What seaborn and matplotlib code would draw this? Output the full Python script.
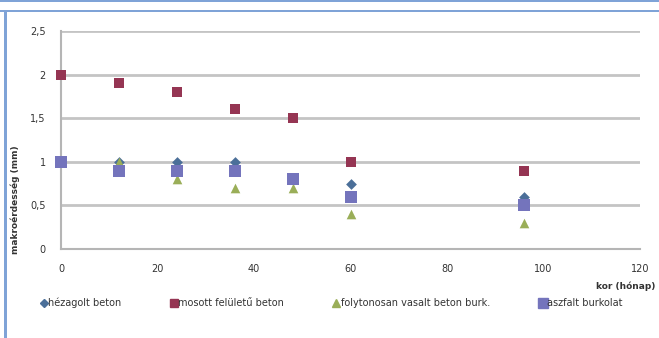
import matplotlib
matplotlib.use("Agg")
import matplotlib.pyplot as plt
from matplotlib.lines import Line2D
from matplotlib.patches import Rectangle
import seaborn as sns
import pandas as pd

# Surface macrotexture (mm) versus pavement age (months)
age_hezagolt = [0, 12, 24, 36, 48, 60, 96]
hezagolt = [1.0, 1.0, 1.0, 1.0, 0.8, 0.75, 0.6]

age_mosott = [0, 12, 24, 36, 48, 60, 96]
mosott = [2.0, 1.9, 1.8, 1.6, 1.5, 1.0, 0.9]

age_folyt = [0, 12, 24, 36, 48, 60, 96]
folytonosan = [1.0, 1.0, 0.8, 0.7, 0.7, 0.4, 0.3]

age_aszfalt = [0, 12, 24, 36, 48, 60, 96]
aszfalt = [1.0, 0.9, 0.9, 0.9, 0.8, 0.6, 0.5]

series_names = ["hézagolt beton", "mosott felületű beton",
                "folytonosan vasalt beton burk.", "aszfalt burkolat"]
y_ticks = [0, 0.5, 1, 1.5, 2, 2.5]
y_tick_labels = ["0", "0,5", "1", "1,5", "2", "2,5"]
x_ticks = [0, 20, 40, 60, 80, 100, 120]

frames = []
for name, xs, ys in zip(series_names,
                        [age_hezagolt, age_mosott, age_folyt, age_aszfalt],
                        [hezagolt, mosott, folytonosan, aszfalt]):
    frames.append(pd.DataFrame({"kor": xs, "ertek": ys, "sorozat": name}))
df = pd.concat(frames, ignore_index=True)

styles = {
    "hézagolt beton": dict(marker="D", color="#4B6F99", s=30, legend_ms=4),
    "mosott felületű beton": dict(marker="s", color="#953553", s=48, legend_ms=5.5),
    "folytonosan vasalt beton burk.": dict(marker="^", color="#9AAE58", s=48, legend_ms=5.5),
    "aszfalt burkolat": dict(marker="s", color="#7474BC", s=80, legend_ms=6.5),
}

sns.set_style("white")
plt.rcParams["font.family"] = ["DejaVu Sans"]

W, H = 659, 338
fig = plt.figure(figsize=(W / 100, H / 100), dpi=100)
ax = fig.add_axes([61 / W, 1 - 249 / H, (640 - 61) / W, (249 - 31) / H])

for name in series_names:
    st = styles[name]
    sub = df[df["sorozat"] == name]
    sns.scatterplot(data=sub, x="kor", y="ertek", ax=ax, marker=st["marker"],
                    color=st["color"], s=st["s"], linewidth=0, zorder=3,
                    legend=False, clip_on=False)

ax.set_xlim(0, 120)
ax.set_ylim(0, 2.5)
ax.set_xticks(x_ticks)
ax.set_yticks(y_ticks)
ax.set_yticklabels(y_tick_labels)
ax.tick_params(axis="both", labelsize=7, colors="#333333", length=3,
               color="#BBBBBB", pad=8)
ax.yaxis.grid(True, color="#C4C4C4", linewidth=2)
ax.set_axisbelow(True)
for side in ["top", "right"]:
    ax.spines[side].set_visible(False)
for side in ["left", "bottom"]:
    ax.spines[side].set_color("#B5B5B5")
    ax.spines[side].set_linewidth(1.5)
ax.set_xlabel("")
ax.set_ylabel("")

fig.text(655 / W, 1 - 286 / H, "kor (hónap)", ha="right", va="center",
         fontsize=6.5, fontweight="bold", color="#333333")
fig.text(15 / W, 1 - 200 / H, "makroérdesség (mm)", rotation=90,
         ha="center", va="center", fontsize=6.5, fontweight="bold",
         color="#333333")

handles = [Line2D([], [], linestyle="none", marker=styles[n]["marker"],
                  color=styles[n]["color"], markersize=styles[n]["legend_ms"])
           for n in series_names]
fig.legend(handles, series_names, loc="center", ncol=4,
           bbox_to_anchor=(331 / W, 1 - 303 / H), frameon=False,
           fontsize=7, handletextpad=0.05, columnspacing=5.0,
           handlelength=0.8, labelcolor="#333333")

# blue page frame lines
frame_color = "#7FA3D7"
fig.add_artist(Rectangle((0, 1 - 2 / H), 1, 2 / H, transform=fig.transFigure,
                         color=frame_color, lw=0))
fig.add_artist(Rectangle((0, 1 - 12 / H), 1, 2.5 / H, transform=fig.transFigure,
                         color=frame_color, lw=0))
fig.add_artist(Rectangle((4 / W, 0), 2.5 / W, 1 - 10 / H, transform=fig.transFigure,
                         color=frame_color, lw=0))

fig.savefig("out.png", dpi=100)
